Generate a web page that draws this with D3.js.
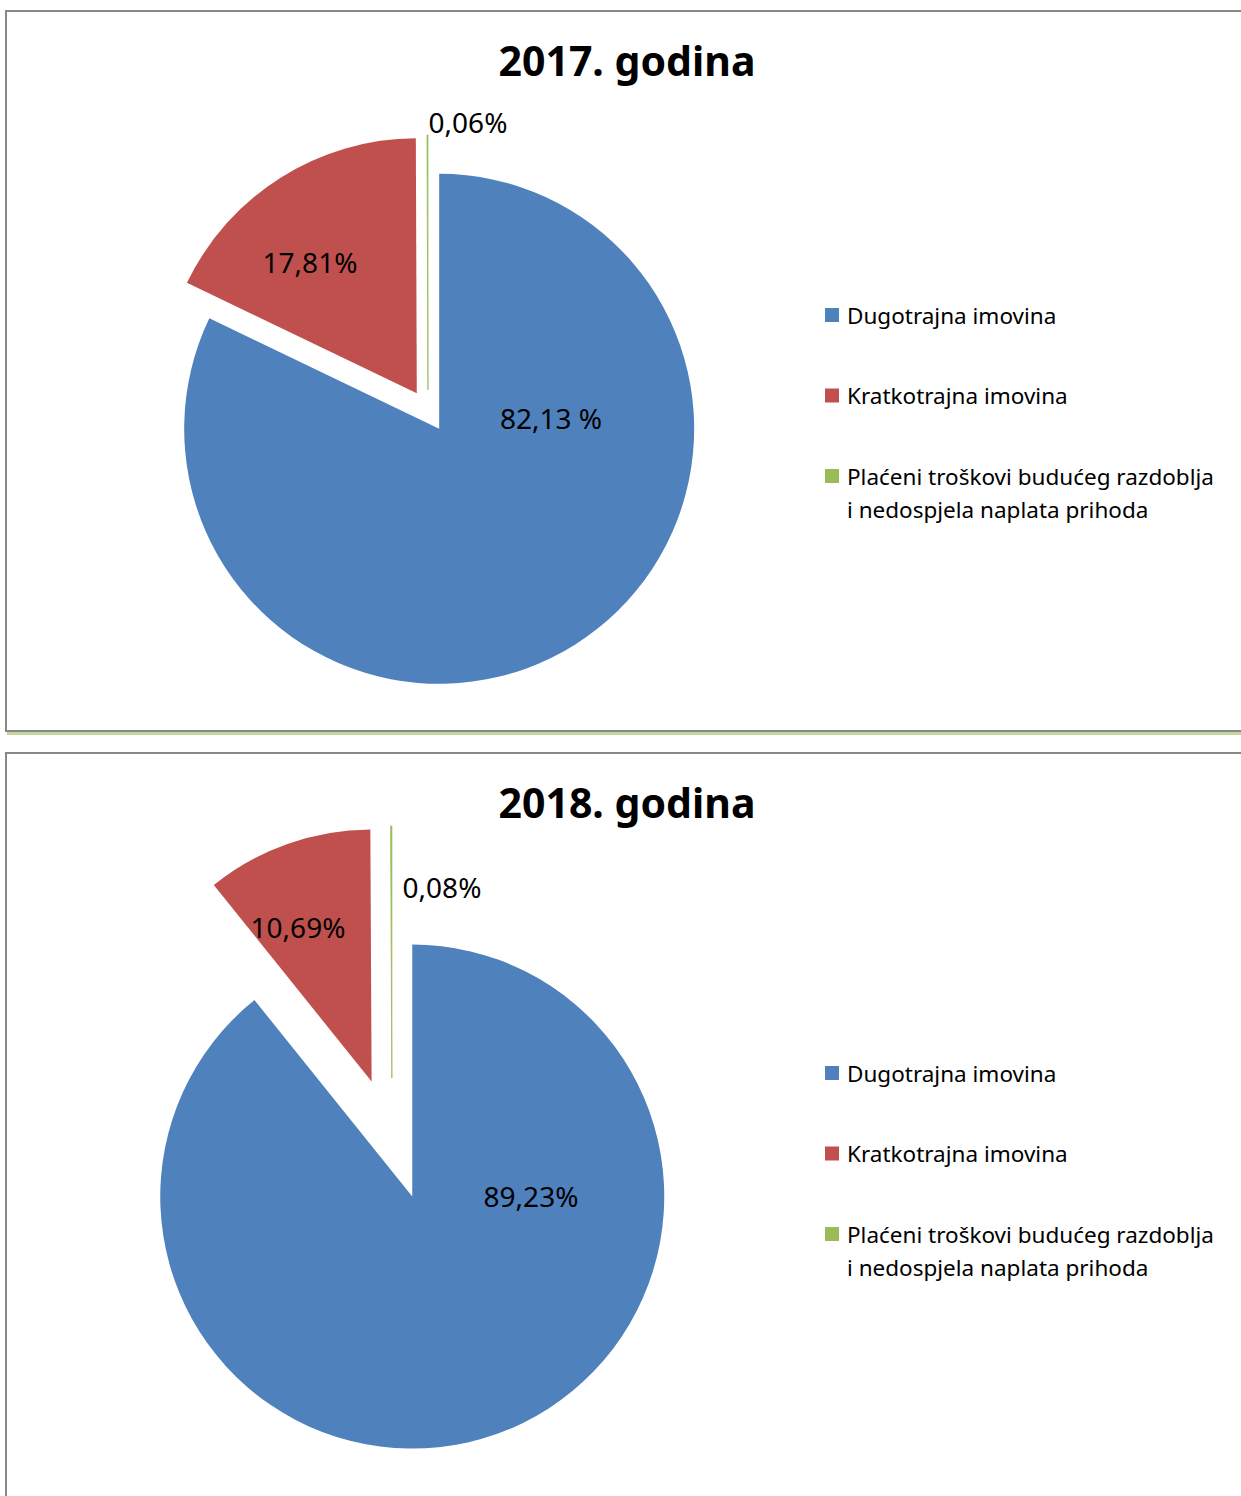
<!DOCTYPE html>
<html>
<head>
<meta charset="utf-8">
<script src="https://cdn.jsdelivr.net/npm/d3@7.9.0/dist/d3.min.js"></script>
<style>
  body { margin: 0; background: #fff; }
  svg { display: block; font-family: 'Noto Sans', sans-serif; }
</style>
</head>
<body>
<svg id="chart" width="1241" height="1496"></svg>
<script>
// data
const categories = ['Dugotrajna imovina', 'Kratkotrajna imovina', 'Plaćeni troškovi budućeg razdoblja'];
const legendLines = [['Dugotrajna imovina'], ['Kratkotrajna imovina'], ['Plaćeni troškovi budućeg razdoblja', 'i nedospjela naplata prihoda']];
const titles = ['2017. godina', '2018. godina'];
const values2017 = [82.13, 17.81, 0.06];
const values2018 = [89.23, 10.69, 0.08];
const labels2017 = ['82,13 %', '17,81%', '0,06%'];
const labels2018 = ['89,23%', '10,69%', '0,08%'];
const colors = ['#4F81BD', '#C0504D', '#9BBB59'];

// layout of each panel (labels were placed by hand in the original)
const panels = [
  { values: values2017, labels: labels2017, title: titles[0], top: 11, bottom: 731,
    cx: 428, cy: 411, r: 255, explode: 21, legendY: 315,
    labelPos: [[123, 7], [-118, -149], [40, -289]] },
  { values: values2018, labels: labels2018, title: titles[1], top: 753, bottom: 1520,
    cx: 392, cy: 1139, r: 252, explode: 61, legendY: 1073,
    labelPos: [[139, 57], [-94, -212], [50, -252]] }
];

const svg = d3.select('#chart');
const pie = d3.pie().sort(null).value(d => d);

panels.forEach((p, pi) => {
  // frame
  svg.append('rect')
    .attr('x', 6).attr('y', p.top)
    .attr('width', 1260).attr('height', p.bottom - p.top)
    .attr('fill', 'none').attr('stroke', '#888').attr('stroke-width', 2);
  if (pi === 0) {
    svg.append('line')
      .attr('x1', 7).attr('x2', 1241)
      .attr('y1', p.bottom + 2.5).attr('y2', p.bottom + 2.5)
      .attr('stroke', '#C3D69B').attr('stroke-width', 3);
  }

  svg.append('text')
    .attr('x', 627).attr('y', p.top + 65)
    .attr('text-anchor', 'middle')
    .attr('font-size', 41).attr('font-weight', 'bold')
    .text(p.title);

  let arc = d3.arc().innerRadius(0).outerRadius(p.r);
  let g = svg.append('g').attr('transform', `translate(${p.cx},${p.cy})`);

  pie(p.values).forEach((d, i) => {
    let a = (d.startAngle + d.endAngle) / 2;
    let dx = Math.sin(a) * p.explode;
    let dy = -Math.cos(a) * p.explode;
    g.append('path')
      .attr('d', arc(d))
      .attr('transform', `translate(${dx},${dy})`)
      .attr('fill', colors[i])
      .attr('stroke', i === 2 ? colors[i] : 'none')
      .attr('stroke-width', 0.8);
  });

  p.labels.forEach((t, i) => {
    g.append('text')
      .attr('x', p.labelPos[i][0]).attr('y', p.labelPos[i][1])
      .attr('text-anchor', 'middle')
      .attr('dominant-baseline', 'central')
      .attr('font-size', 28)
      .attr('fill', '#000')
      .text(t);
  });

  // legend
  let leg = svg.append('g');
  categories.forEach((c, i) => {
    let y = p.legendY + i * 80.5;
    leg.append('rect')
      .attr('x', 825).attr('y', y - 7)
      .attr('width', 14).attr('height', 14)
      .attr('fill', colors[i]);
    legendLines[i].forEach((line, j) => {
      leg.append('text')
        .attr('x', 847).attr('y', y + j * 33)
        .attr('dominant-baseline', 'central')
        .attr('font-size', 22.5)
        .text(line);
    });
  });
});
</script>
</body>
</html>
